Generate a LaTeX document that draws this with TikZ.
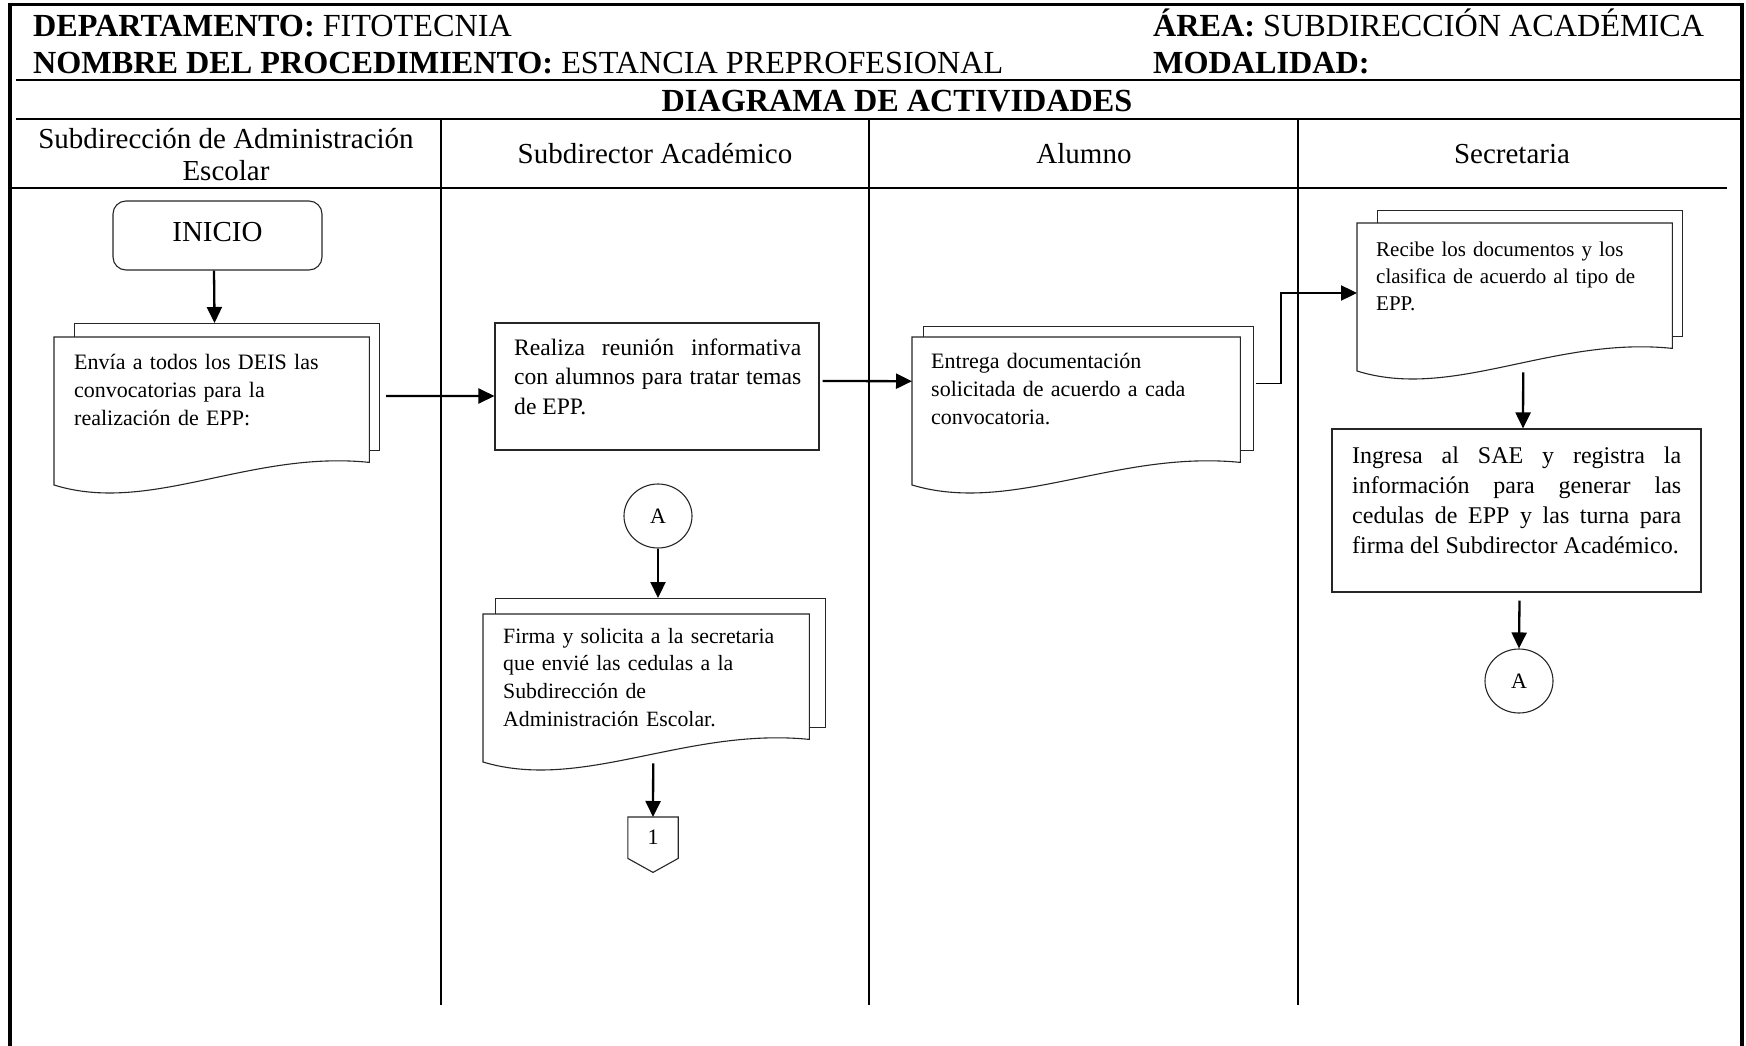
\documentclass[tikz,border=0pt]{standalone}
\usepackage{fontspec}
\setmainfont{Liberation Serif}
\usetikzlibrary{arrows.meta,shapes.geometric,calc}

\tikzset{
  shapeline/.style={draw=black!85, line width=1.1pt},
  flowarrow/.style={line width=2.3pt, -{Triangle[length=16pt,width=15pt]}},
  thinlink/.style={line width=1.3pt},
  hdr/.style={inner sep=0, anchor=base west, font=\fontsize{32.2}{38}\selectfont},
  lanehdr/.style={inner sep=0, anchor=base, font=\fontsize{29}{34}\selectfont},
  ltext/.style={inner sep=0, anchor=base west, align=left, text width=#1},
  jtext/.style={inner sep=0, anchor=base west, align=justify, text width=#1},
  connA/.style={shapeline, ellipse, minimum width=68pt, minimum height=64pt, inner sep=0, font=\fontsize{22}{26}\selectfont}
}

% #1 name, #2 L, #3 T, #4 W, #5 back left offset, #6 back right offset, #7 back top offset
\newcommand{\docshape}[7]{%
  \pgfmathsetmacro\dsbw{#4+#6-#5}%
  \pgfmathsetmacro\dsbh{113+#7}%
  \pgfmathsetmacro\dsbx{#2+#5}%
  \pgfmathsetmacro\dsby{#3-#7}%
  \pgfmathsetmacro\dscA{0.622*#4}%
  \pgfmathsetmacro\dscB{0.305*#4}%
  \node[shapeline, fill=white, inner sep=0, anchor=north west,
        minimum width=\dsbw pt, minimum height=\dsbh pt] (#1-b) at (\dsbx,\dsby) {};
  \node[inner sep=0, anchor=north west, minimum width=#4pt, minimum height=125pt] (#1) at (#2,#3) {};
  \draw[shapeline, fill=white] (#1.north west) -- (#1.north east) -- (#1.south east)
     .. controls ($(#1.north west)+(\dscA,113)$) and ($(#1.north west)+(\dscB,178)$) .. ($(#1.north west)+(0,148)$) -- cycle;
}

\begin{document}
\begin{tikzpicture}[x=1pt,y=-1pt]
\useasboundingbox (0,0) rectangle (1746,1046);

% frame
\draw[line width=3.6pt] (10,1046) -- (10,4.5) -- (1742,4.5) -- (1742,1046);
\draw[line width=2.2pt] (16,80) -- (1742,80);
\draw[line width=2.2pt] (16,119) -- (1742,119);
\draw[line width=2pt] (10,188) -- (1727,188);
\draw[line width=1.6pt] (441,119) -- (441,1005);
\draw[line width=1.6pt] (869,119) -- (869,1005);
\draw[line width=1.6pt] (1298,119) -- (1298,1005);

% header
\node[hdr] (dep) at (33,37) {\textbf{DEPARTAMENTO:} FITOTECNIA};
\node[hdr] (nom) at (33,74) {\textbf{NOMBRE DEL PROCEDIMIENTO:} ESTANCIA PREPROFESIONAL};
\node[hdr] (area) at (1153,37) {\textbf{ÁREA:} SUBDIRECCIÓN ACADÉMICA};
\node[hdr] (mod) at (1153,74) {\textbf{MODALIDAD:}};
\node[hdr, anchor=base] (diag) at (897,112) {\textbf{DIAGRAMA DE ACTIVIDADES}};

% lane headers
\node[lanehdr] (l1a) at (226,149) {Subdirección de Administración};
\node[lanehdr] (l1b) at (226,180) {Escolar};
\node[lanehdr] (l2) at (655,164) {Subdirector Académico};
\node[lanehdr] (l3) at (1084,164) {Alumno};
\node[lanehdr] (l4) at (1512,164) {Secretaria};

% INICIO
\node[shapeline, rounded corners=13pt, minimum width=209pt, minimum height=69pt, inner sep=0,
      text height=19pt, text depth=7pt, font=\fontsize{29}{34}\selectfont] (inicio) at (217.5,235.5) {INICIO};

% documents
\docshape{doc1}{54}{337}{315}{20}{10}{14}
\node[ltext=300pt, font=\fontsize{22}{28.4}\selectfont] (doc1t) at (74,369)
  {Envía a todos los DEIS las\\convocatorias para la\\realización de EPP:};

\docshape{entrega}{912}{337}{328}{11}{13}{11}
\node[ltext=300pt, font=\fontsize{22}{28.4}\selectfont] (entregat) at (931,368)
  {Entrega documentación\\solicitada de acuerdo a cada\\convocatoria.};

\docshape{recibe}{1357}{223}{315}{20}{10}{13}
\node[ltext=290pt, font=\fontsize{21}{27}\selectfont] (recibet) at (1376,256)
  {Recibe los documentos y los\\clasifica de acuerdo al tipo de\\EPP.};

\docshape{firma}{483}{614}{326}{12}{16}{16}
\node[ltext=300pt, font=\fontsize{21.8}{27.8}\selectfont] (firmat) at (503,643)
  {Firma y solicita a la secretaria\\que envié las cedulas a la\\Subdirección de\\Administración Escolar.};

% process boxes
\node[shapeline, minimum width=324pt, minimum height=127pt, inner sep=0] (realiza) at (657,386.5) {};
\node[jtext=287pt, font=\fontsize{23.6}{29.5}\selectfont] (realizat) at (514,355)
  {Realiza reunión informativa\linebreak con alumnos para tratar temas\linebreak de EPP.};

\node[shapeline, minimum width=369pt, minimum height=163pt, inner sep=0] (ingresa) at (1516.5,510.5) {};
\node[jtext=329pt, font=\fontsize{24}{30}\selectfont] (ingresat) at (1352,463)
  {Ingresa al SAE y registra la\linebreak información para generar las\linebreak cedulas de EPP y las turna para\linebreak firma del Subdirector Académico.};

% connectors A
\node[connA] (a1) at (658,516) {A};
\node[connA] (a2) at (1519,681) {A};

% off-page connector
\node[inner sep=0, anchor=north, minimum width=50pt, minimum height=41pt, font=\fontsize{22}{26}\selectfont] (off1) at (653,817) {1};
\draw[shapeline] (off1.north west) -- (off1.north east) -- (off1.south east) -- ($(off1.south)+(0,14)$) -- (off1.south west) -- cycle;

% arrows
\draw[flowarrow] ([xshift=-3.5pt]inicio.south) -- ([xshift=-12.5pt]doc1-b.north);
\draw[flowarrow] ([xshift=6pt,yshift=-9pt]doc1-b.east) -- ([yshift=-9.5pt]realiza.west);
\draw[flowarrow] ([xshift=3pt,yshift=5.5pt]realiza.east) -- ([yshift=18.5pt]entrega.west);
\coordinate (bend) at (1281,293);
\draw[thinlink] ([xshift=2pt,yshift=5pt]entrega-b.east) -| (bend);
\draw[flowarrow] ([xshift=-1pt]bend) -- (recibe.west |- bend);
\draw[flowarrow] ([xshift=8.5pt,yshift=-24pt]recibe.south) -- ([xshift=6.5pt]ingresa.north);
\draw[flowarrow] ([xshift=3pt,yshift=-8pt]ingresa.south) -- (a2.north);
\draw[flowarrow] (a1.south) -- (a1.south |- firma-b.north);
\draw[flowarrow] ([xshift=7pt,yshift=-24pt]firma.south) -- (off1.north);

\end{tikzpicture}
\end{document}
